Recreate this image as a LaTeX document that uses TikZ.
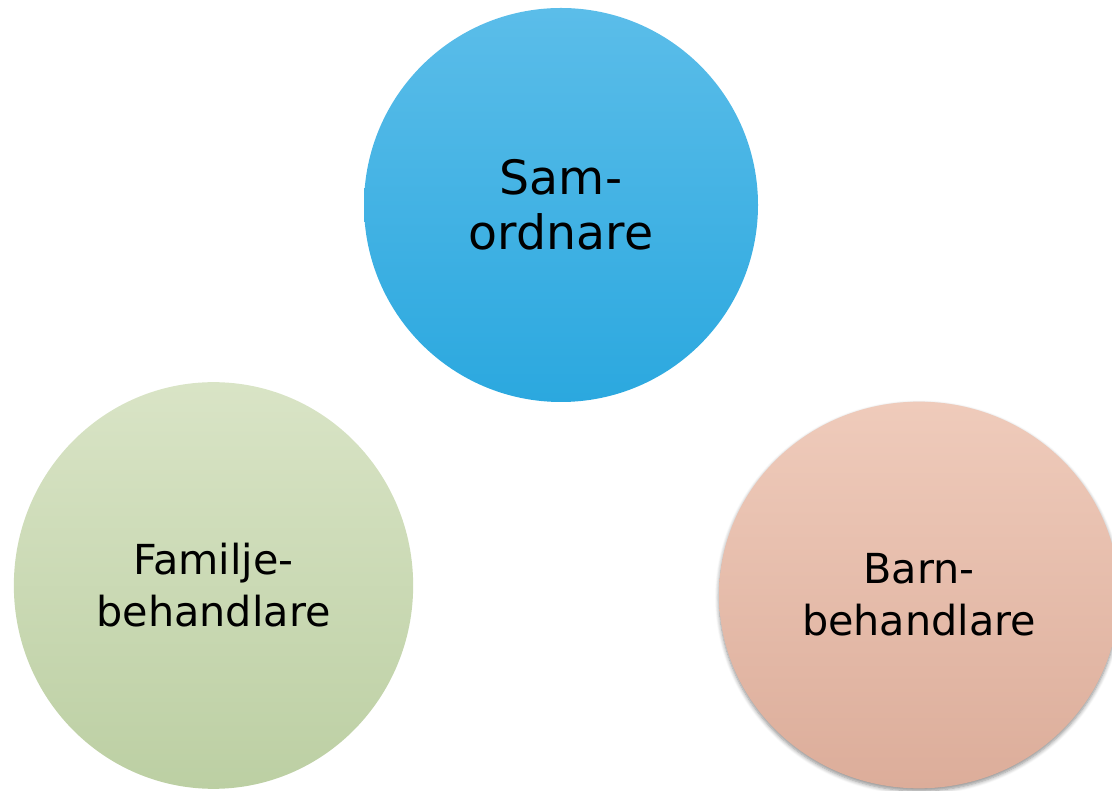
\documentclass[tikz,border=0pt]{standalone}
\usepackage{fontspec}
\setmainfont{DejaVu Sans}
\usetikzlibrary{shapes.geometric, shadows.blur}

\definecolor{samtop}{HTML}{5BBDE9}
\definecolor{sambot}{HTML}{2BA8DF}
\definecolor{famtop}{HTML}{D9E4C6}
\definecolor{fambot}{HTML}{BCCFA3}
\definecolor{barntop}{HTML}{EFCBBB}
\definecolor{barnbot}{HTML}{DCAD9A}

\tikzset{
    bubble/.style={ellipse, inner sep=0pt, align=center,
        font=\fontsize{31}{39}\selectfont},
}

\begin{document}
\begin{tikzpicture}[x=0.75pt, y=0.75pt]
    \useasboundingbox (0,0) rectangle (1112,791);

    % the coordinator on top
    \node[bubble, top color=samtop, bottom color=sambot,
          minimum width=295.5pt, minimum height=295.5pt,
          font=\fontsize{35.5}{41.5}\selectfont]
        (samordnare) at (561,586) {Sam-\\ordnare};

    % family therapist, lower left
    \node[bubble, top color=famtop, bottom color=fambot,
          minimum width=299.5pt, minimum height=305pt]
        (familj) at (213.5,205.5) {Familje-\\behandlare};

    % child therapist, lower right
    \node[bubble, top color=barntop, bottom color=barnbot,
          minimum width=300pt, minimum height=290pt,
          blur shadow={shadow xshift=0pt, shadow yshift=-2pt,
                       shadow blur radius=3pt, shadow blur steps=6,
                       shadow opacity=45}]
        (barn) at (919,196) {Barn-\\behandlare};
\end{tikzpicture}
\end{document}
